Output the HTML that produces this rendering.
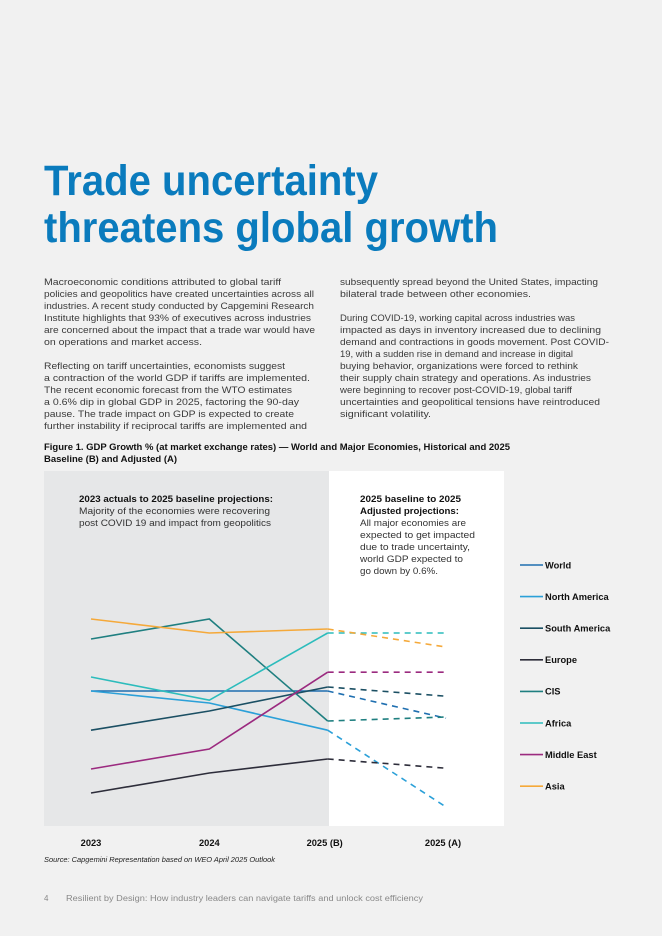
<!DOCTYPE html>
<html><head><meta charset="utf-8"><style>
html,body{margin:0;padding:0;background:#f1f1f1;}
svg{display:block;font-family:"Liberation Sans",sans-serif;}
</style></head><body>
<svg id="page" width="662" height="936" viewBox="0 0 662 936">
<rect width="662" height="936" fill="#f1f1f1"/>
<g fill="#0a7bbd" font-size="43" font-weight="bold">
<text x="44" y="195" textLength="334" lengthAdjust="spacingAndGlyphs">Trade uncertainty</text>
<text x="44" y="242" textLength="454" lengthAdjust="spacingAndGlyphs">threatens global growth</text>
</g>
<g fill="#3a3a3a" font-size="9.3">
<text x="44" y="285" textLength="237" lengthAdjust="spacingAndGlyphs">Macroeconomic conditions attributed to global tariff</text>
<text x="44" y="297" textLength="270" lengthAdjust="spacingAndGlyphs">policies and geopolitics have created uncertainties across all</text>
<text x="44" y="309" textLength="270" lengthAdjust="spacingAndGlyphs">industries. A recent study conducted by Capgemini Research</text>
<text x="44" y="321" textLength="267" lengthAdjust="spacingAndGlyphs">Institute highlights that 93% of executives across industries</text>
<text x="44" y="333" textLength="271" lengthAdjust="spacingAndGlyphs">are concerned about the impact that a trade war would have</text>
<text x="44" y="345" textLength="158" lengthAdjust="spacingAndGlyphs">on operations and market access.</text>
<text x="44" y="369" textLength="241" lengthAdjust="spacingAndGlyphs">Reflecting on tariff uncertainties, economists suggest</text>
<text x="44" y="381" textLength="266" lengthAdjust="spacingAndGlyphs">a contraction of the world GDP if tariffs are implemented.</text>
<text x="44" y="393" textLength="248" lengthAdjust="spacingAndGlyphs">The recent economic forecast from the WTO estimates</text>
<text x="44" y="405" textLength="255" lengthAdjust="spacingAndGlyphs">a 0.6% dip in global GDP in 2025, factoring the 90-day</text>
<text x="44" y="417" textLength="250" lengthAdjust="spacingAndGlyphs">pause. The trade impact on GDP is expected to create</text>
<text x="44" y="429" textLength="263" lengthAdjust="spacingAndGlyphs">further instability if reciprocal tariffs are implemented and</text>
</g>
<g fill="#3a3a3a" font-size="9.3">
<text x="340" y="285" textLength="258" lengthAdjust="spacingAndGlyphs">subsequently spread beyond the United States, impacting</text>
<text x="340" y="297" textLength="191" lengthAdjust="spacingAndGlyphs">bilateral trade between other economies.</text>
<text x="340" y="321" textLength="235" lengthAdjust="spacingAndGlyphs">During COVID-19, working capital across industries was</text>
<text x="340" y="333" textLength="261" lengthAdjust="spacingAndGlyphs">impacted as days in inventory increased due to declining</text>
<text x="340" y="345" textLength="269" lengthAdjust="spacingAndGlyphs">demand and contractions in goods movement. Post COVID-</text>
<text x="340" y="357" textLength="233" lengthAdjust="spacingAndGlyphs">19, with a sudden rise in demand and increase in digital</text>
<text x="340" y="369" textLength="238" lengthAdjust="spacingAndGlyphs">buying behavior, organizations were forced to rethink</text>
<text x="340" y="381" textLength="251" lengthAdjust="spacingAndGlyphs">their supply chain strategy and operations. As industries</text>
<text x="340" y="393" textLength="232" lengthAdjust="spacingAndGlyphs">were beginning to recover post-COVID-19, global tariff</text>
<text x="340" y="405" textLength="260" lengthAdjust="spacingAndGlyphs">uncertainties and geopolitical tensions have reintroduced</text>
<text x="340" y="417" textLength="91" lengthAdjust="spacingAndGlyphs">significant volatility.</text>
</g>
<g fill="#111" font-size="9.3" font-weight="bold">
<text x="44" y="450" textLength="466" lengthAdjust="spacingAndGlyphs">Figure 1. GDP Growth % (at market exchange rates) — World and Major Economies, Historical and 2025</text>
<text x="44" y="462" textLength="133" lengthAdjust="spacingAndGlyphs">Baseline (B) and Adjusted (A)</text>
</g>
<rect x="44" y="471" width="460" height="355" fill="#ffffff"/>
<rect x="44" y="471" width="285" height="355" fill="#e6e7e8"/>
<g fill="#333" font-size="9.3">
<text x="79" y="502" font-weight="bold" fill="#111" textLength="194" lengthAdjust="spacingAndGlyphs">2023 actuals to 2025 baseline projections:</text>
<text x="79" y="514" textLength="191" lengthAdjust="spacingAndGlyphs">Majority of the economies were recovering</text>
<text x="79" y="526" textLength="192" lengthAdjust="spacingAndGlyphs">post COVID 19 and impact from geopolitics</text>
</g>
<g fill="#333" font-size="9.3">
<text x="360" y="502" font-weight="bold" fill="#111" textLength="101" lengthAdjust="spacingAndGlyphs">2025 baseline to 2025</text>
<text x="360" y="514" font-weight="bold" fill="#111" textLength="99" lengthAdjust="spacingAndGlyphs">Adjusted projections:</text>
<text x="360" y="526" textLength="106" lengthAdjust="spacingAndGlyphs">All major economies are</text>
<text x="360" y="538" textLength="115" lengthAdjust="spacingAndGlyphs">expected to get impacted</text>
<text x="360" y="550" textLength="110" lengthAdjust="spacingAndGlyphs">due to trade uncertainty,</text>
<text x="360" y="562" textLength="103" lengthAdjust="spacingAndGlyphs">world GDP expected to</text>
<text x="360" y="574" textLength="78" lengthAdjust="spacingAndGlyphs">go down by 0.6%.</text>
</g>
<g id="series"></g>
<g id="xaxis"></g>
<g id="legend"></g>
<text x="44" y="862" font-size="7" font-style="italic" fill="#222" textLength="231" lengthAdjust="spacingAndGlyphs">Source: Capgemini Representation based on WEO April 2025 Outlook</text>
<text x="44" y="901" font-size="8" fill="#888">4</text>
<text x="66" y="901" font-size="8" fill="#888" textLength="357" lengthAdjust="spacingAndGlyphs">Resilient by Design: How industry leaders can navigate tariffs and unlock cost efficiency</text>
</svg>
<script>
const categories = ["2023", "2024", "2025 (B)", "2025 (A)"];
const seriesNames = ["World", "North America", "South America", "Europe", "CIS", "Africa", "Middle East", "Asia"];
const seriesColors = ["#1f6fb0", "#2ba0d8", "#1b4f63", "#2d2d3a", "#1f7f80", "#2cbcbc", "#9b2a7f", "#f5a93a"];
const world = [3.3, 3.3, 3.3, 2.62];
const northAmerica = [3.3, 3.0, 2.32, 0.4];
const southAmerica = [2.32, 2.8, 3.4, 3.17];
const europe = [0.75, 1.25, 1.6, 1.37];
const cis = [4.6, 5.1, 2.55, 2.65];
const africa = [3.65, 3.07, 4.75, 4.75];
const middleEast = [1.35, 1.85, 3.77, 3.77];
const asia = [5.1, 4.75, 4.85, 4.4];
const seriesValues = [world, northAmerica, southAmerica, europe, cis, africa, middleEast, asia];
const seriesKeys = ["world", "north-america", "south-america", "europe", "cis", "africa", "middle-east", "asia"];

const NS = "http://www.w3.org/2000/svg";
const xPos = [91, 210, 329, 446];
function xScale(i){ return xPos[0] + (xPos[3]-xPos[0]) * i / (categories.length-1) * ( (xPos[3]-xPos[0]) / (xPos[3]-xPos[0]) ); }
function yScale(v){ return 823 - 40 * v; }
function mk(tag, attrs){ const e=document.createElementNS(NS, tag); for(const k in attrs) e.setAttribute(k, attrs[k]); return e; }

const sg = document.getElementById("series");
seriesValues.forEach((vals, s) => {
  const g = mk("g", {});
  
  
  const solidPts = vals.slice(0,3).map((v,i)=>xScale(i)+","+yScale(v)).join(" ");
  const solid = mk("polyline", {points: solidPts, fill:"none", stroke: seriesColors[s], "stroke-width":"1.6"});
  
  
  g.appendChild(solid);
  const dash = mk("line", {x1:xScale(2), y1:yScale(vals[2]), x2:xScale(3), y2:yScale(vals[3]), stroke: seriesColors[s], "stroke-width":"1.6", "stroke-dasharray":"6,5"});
  
  
  g.appendChild(dash);
  sg.appendChild(g);
});

const xg = document.getElementById("xaxis");
categories.forEach((c, i) => {
  const t = mk("text", {x: xScale(i) - (i>=2 ? 3 : 0), y: 846, "text-anchor":"middle", "font-size":"9.3", "font-weight":"bold", fill:"#111"});
  t.textContent = c;
  
  
  xg.appendChild(t);
});

const lg = document.getElementById("legend");
seriesNames.forEach((n, s) => {
  const y = 565 + s * 31.6;
  const g = mk("g", {});
  
  
  g.appendChild(mk("line", {x1:520, x2:543, y1:y, y2:y, stroke: seriesColors[s], "stroke-width":"1.6"}));
  const t = mk("text", {x:545, y:y+3.3, "font-size":"9.3", "font-weight":"bold", fill:"#111"});
  t.textContent = n;
  g.appendChild(t);
  lg.appendChild(g);
});
</script>
</body></html>
